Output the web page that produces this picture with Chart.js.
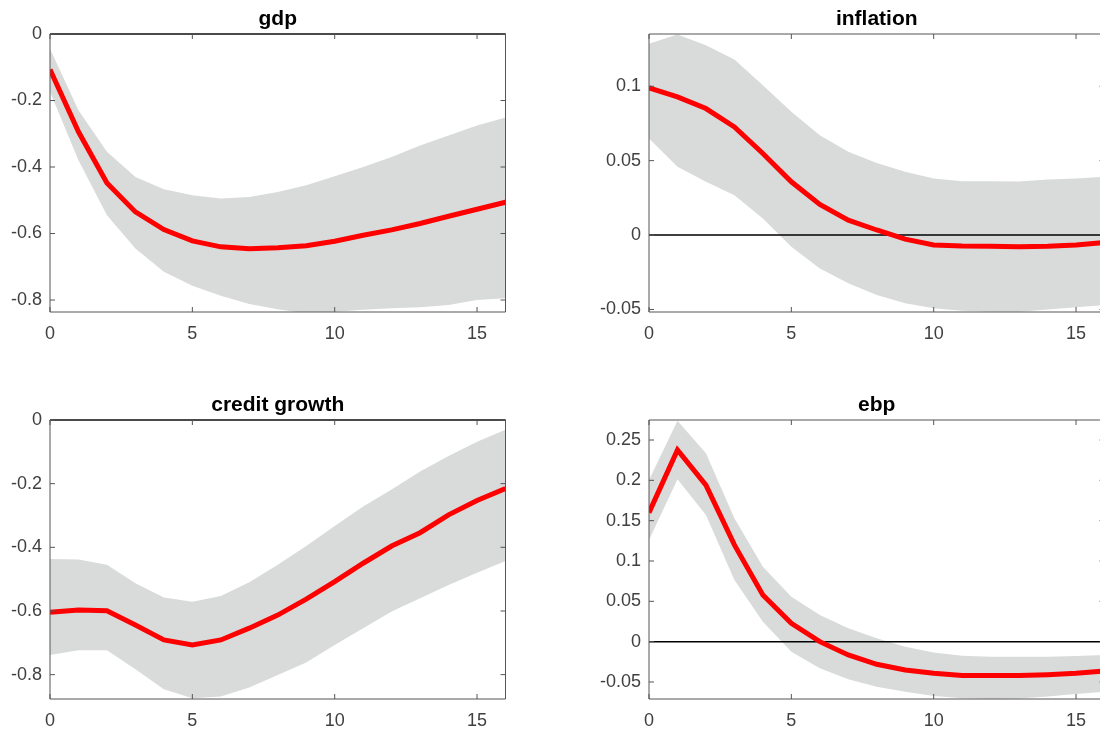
<!DOCTYPE html>
<html>
<head>
<meta charset="utf-8">
<script src="https://cdn.jsdelivr.net/npm/chart.js@4.4.1/dist/chart.umd.min.js"></script>
<style>
  html, body { margin: 0; padding: 0; background: #fff; overflow: hidden; }
  body { width: 1100px; height: 731px; position: relative; }
  canvas { position: absolute; }
</style>
</head>
<body>
<canvas id="gdpChart" width="556" height="350" style="left:0px;top:0px;width:556px;height:350px"></canvas>
<canvas id="inflationChart" width="656" height="350" style="left:549px;top:0px;width:656px;height:350px"></canvas>
<canvas id="creditChart" width="556" height="351" style="left:0px;top:386px;width:556px;height:351px"></canvas>
<canvas id="ebpChart" width="656" height="351" style="left:549px;top:386px;width:656px;height:351px"></canvas>
<script>
// horizons
const horizon = [0, 1, 2, 3, 4, 5, 6, 7, 8, 9, 10, 11, 12, 13, 14, 15, 16];
const xTicks = [0, 5, 10, 15];

// gdp
const gdpMedian = [-0.107, -0.294, -0.448, -0.535, -0.588, -0.622, -0.640, -0.646, -0.643, -0.637, -0.623, -0.605, -0.589, -0.570, -0.548, -0.527, -0.506];
const gdpUpper  = [-0.044, -0.229, -0.354, -0.430, -0.467, -0.485, -0.495, -0.490, -0.475, -0.455, -0.428, -0.400, -0.370, -0.335, -0.305, -0.275, -0.251];
const gdpLower  = [-0.174, -0.380, -0.545, -0.645, -0.715, -0.757, -0.787, -0.812, -0.828, -0.840, -0.835, -0.829, -0.825, -0.822, -0.815, -0.800, -0.795];
const gdpTicks = [-0.8, -0.6, -0.4, -0.2, 0];
const gdpRange = [-0.836, 0];

// inflation
const inflMedian = [0.0989, 0.0928, 0.0850, 0.0727, 0.0548, 0.0358, 0.0206, 0.0100, 0.0034, -0.0027, -0.0067, -0.0074, -0.0076, -0.0078, -0.0076, -0.0067, -0.0050];
const inflUpper  = [0.1286, 0.1347, 0.1275, 0.1179, 0.1007, 0.0828, 0.0671, 0.0559, 0.0485, 0.0425, 0.0380, 0.0362, 0.0362, 0.0360, 0.0374, 0.0380, 0.0391];
const inflLower  = [0.0649, 0.0459, 0.0358, 0.0268, 0.0112, -0.0078, -0.0224, -0.0324, -0.0403, -0.0459, -0.0492, -0.0508, -0.0515, -0.0515, -0.0500, -0.0485, -0.0470];
const inflTicks = [-0.05, 0, 0.05, 0.1];
const inflRange = [-0.0517, 0.1351];

// credit growth
const creditMedian = [-0.604, -0.597, -0.599, -0.644, -0.691, -0.707, -0.691, -0.654, -0.613, -0.563, -0.508, -0.450, -0.396, -0.354, -0.298, -0.253, -0.215];
const creditUpper  = [-0.437, -0.438, -0.455, -0.513, -0.558, -0.571, -0.553, -0.510, -0.455, -0.396, -0.333, -0.272, -0.218, -0.162, -0.113, -0.068, -0.031];
const creditLower  = [-0.738, -0.723, -0.723, -0.783, -0.846, -0.874, -0.869, -0.840, -0.801, -0.762, -0.707, -0.654, -0.602, -0.560, -0.518, -0.480, -0.443];
const creditTicks = [-0.8, -0.6, -0.4, -0.2, 0];
const creditRange = [-0.8765, 0];

// ebp
const ebpMedian = [0.160, 0.2376, 0.194, 0.120, 0.0579, 0.0227, 0.000, -0.0165, -0.0281, -0.0351, -0.0393, -0.0421, -0.0421, -0.0421, -0.0409, -0.0393, -0.0364];
const ebpUpper  = [0.2004, 0.274, 0.2335, 0.1529, 0.093, 0.0558, 0.0331, 0.0165, 0.0041, -0.0062, -0.0136, -0.0174, -0.0186, -0.0186, -0.0186, -0.0178, -0.0165];
const ebpLower  = [0.126, 0.2012, 0.157, 0.0764, 0.0248, -0.0124, -0.0331, -0.0467, -0.0558, -0.062, -0.0674, -0.0702, -0.0711, -0.0705, -0.0680, -0.0649, -0.0620];
const ebpTicks = [-0.05, 0, 0.05, 0.1, 0.15, 0.2, 0.25];
const ebpRange = [-0.0711, 0.2748];

const bandColor = "#d9dada";
const tickFont = { family: "'Liberation Sans', Arial, sans-serif", size: 18 };
const titleFont = { family: "'Liberation Sans', Arial, sans-serif", size: 21, weight: "bold" };

const toPoints = arr => horizon.map((h, i) => ({ x: h, y: arr[i] }));
const fmt = v => String(Math.round(v * 1000) / 1000);

// MATLAB-like box with inward ticks on all four sides
const boxPlugin = {
  id: "matlabBox",
  afterDatasetsDraw(chart) {
    const { ctx, chartArea: a, scales } = chart;
    const len = 5;
    ctx.save();
    ctx.strokeStyle = "#555";
    ctx.lineWidth = 1;
    ctx.beginPath();
    ctx.rect(a.left, a.top, a.right - a.left, a.bottom - a.top);
    ctx.stroke();
    ctx.beginPath();
    scales.x.ticks.forEach(t => {
      const px = scales.x.getPixelForValue(t.value);
      ctx.moveTo(px, a.bottom); ctx.lineTo(px, a.bottom - len);
      ctx.moveTo(px, a.top); ctx.lineTo(px, a.top + len);
    });
    scales.y.ticks.forEach(t => {
      const py = scales.y.getPixelForValue(t.value);
      ctx.moveTo(a.left, py); ctx.lineTo(a.left + len, py);
      ctx.moveTo(a.right, py); ctx.lineTo(a.right - len, py);
    });
    ctx.stroke();
    ctx.restore();
  }
};

function makePanel(id, title, median, upper, lower, yTicks, yRange, axisWidth, padRight) {
  const ctx = document.getElementById(id).getContext("2d");
  new Chart(ctx, {
    type: "line",
    data: {
      datasets: [
        {
          data: toPoints(upper),
          borderWidth: 0,
          pointRadius: 0,
          fill: false,
          order: 4
        },
        {
          data: toPoints(lower),
          borderWidth: 0,
          pointRadius: 0,
          backgroundColor: bandColor,
          fill: "-1",
          order: 3
        },
        {
          data: [{ x: 0, y: 0 }, { x: 16, y: 0 }],
          borderColor: "#000",
          borderWidth: 1.5,
          pointRadius: 0,
          fill: false,
          clip: false,
          order: 2
        },
        {
          data: toPoints(median),
          borderColor: "#ff0000",
          borderWidth: 5,
          pointRadius: 0,
          fill: false,
          order: 1
        }
      ]
    },
    options: {
      responsive: false,
      animation: false,
      layout: { padding: { left: 0, right: padRight, top: 0, bottom: 0 } },
      plugins: {
        legend: { display: false },
        tooltip: { enabled: false },
        title: {
          display: true,
          fullSize: false,
          text: title,
          color: "#000",
          font: titleFont,
          padding: { top: 7, bottom: 1.8 }
        }
      },
      scales: {
        x: {
          type: "linear",
          min: 0,
          max: 16,
          grid: { display: false, drawTicks: false },
          border: { display: false },
          afterBuildTicks: s => { s.ticks = xTicks.map(v => ({ value: v })); },
          afterFit: s => { s.height = 38; },
          ticks: { color: "#404040", font: tickFont, padding: 11, maxRotation: 0, callback: v => fmt(v) }
        },
        y: {
          type: "linear",
          min: yRange[0],
          max: yRange[1],
          grid: { display: false, drawTicks: false },
          border: { display: false },
          afterBuildTicks: s => { s.ticks = yTicks.map(v => ({ value: v })); },
          afterFit: s => { s.width = axisWidth; },
          ticks: { color: "#404040", font: tickFont, padding: 8, callback: v => fmt(v) }
        }
      }
    },
    plugins: [boxPlugin]
  });
}

makePanel("gdpChart", "gdp", gdpMedian, gdpUpper, gdpLower, gdpTicks, gdpRange, 50, 50.5);
makePanel("inflationChart", "inflation", inflMedian, inflUpper, inflLower, inflTicks, inflRange, 100, 100.5);
makePanel("creditChart", "credit growth", creditMedian, creditUpper, creditLower, creditTicks, creditRange, 50, 50.5);
makePanel("ebpChart", "ebp", ebpMedian, ebpUpper, ebpLower, ebpTicks, ebpRange, 100, 100.5);
</script>
</body>
</html>
